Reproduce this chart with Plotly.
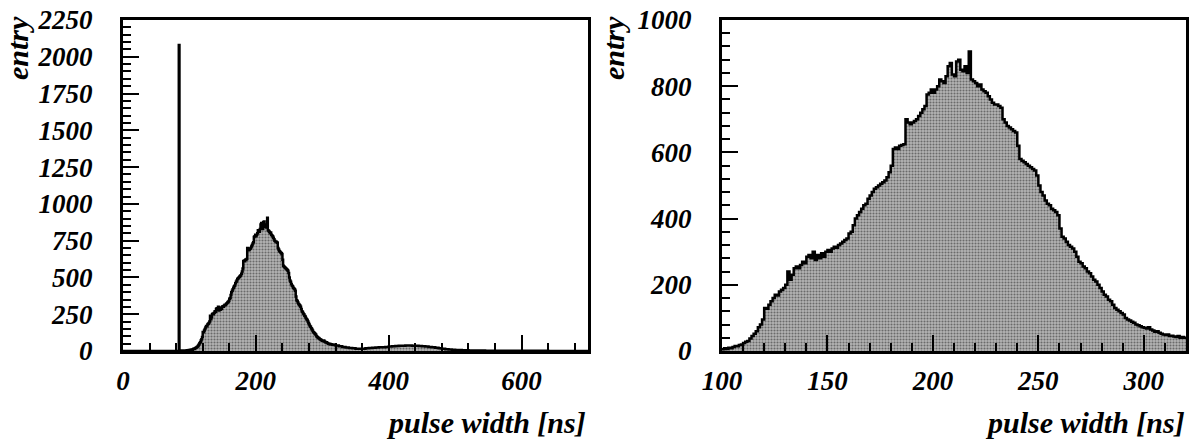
import plotly.graph_objects as go

# ---------------- data (counts per 1 ns bin) ----------------
SPIKE_START = 84          # ns, narrow spike bin
SPIKE_COUNT = 2080

LOW_START = 85            # 85..99 ns, 1 ns bins
LOW_COUNTS = [3, 2, 4, 3, 2, 3, 4, 3, 2, 3, 4, 5, 4, 5, 6]

CORE_START = 100          # 100..319 ns, 1 ns bins
CORE_COUNTS = [
    5, 8, 6, 10, 8, 12, 15, 14, 18, 20,
    24, 28, 30, 38, 45, 52, 60, 72, 80, 95,
    130, 128, 140, 150, 160, 170, 168, 180, 185, 190,
    200, 240, 215, 230, 250, 255, 250, 260, 270, 265,
    285, 290, 280, 300, 275, 290, 280, 295, 285, 300,
    305, 300, 310, 315, 312, 320, 325, 330, 335, 340,
    355, 360, 380, 400, 410, 420, 430, 440, 445, 460,
    470, 480, 490, 495, 500, 505, 510, 515, 525, 540,
    560, 610, 615, 610, 620, 622, 625, 700, 690, 685,
    690, 695, 700, 710, 720, 730, 740, 775, 780, 790,
    780, 790, 800, 820, 815, 810, 830, 860, 870, 835,
    830, 875, 880, 850, 845, 860, 840, 905, 820, 815,
    810, 800, 805, 790, 785, 780, 770, 760, 750, 745,
    745, 740, 735, 700, 690, 680, 675, 670, 665, 660,
    620, 580, 575, 570, 565, 560, 555, 550, 545, 530,
    500, 480, 470, 455, 445, 440, 430, 425, 420, 410,
    370, 345, 340, 330, 320, 315, 310, 300, 285, 270,
    265, 255, 250, 240, 235, 225, 215, 210, 200, 190,
    180, 170, 165, 155, 150, 140, 130, 125, 120, 115,
    110, 100, 95, 92, 88, 85, 80, 78, 75, 72,
    70, 68, 72, 65, 62, 58, 60, 55, 52, 50,
    48, 50, 45, 46, 44, 42, 45, 40, 42, 40,
]

TAIL_START = 320          # 320..699 ns, 5 ns bins (count per ns)
TAIL_WIDTH = 5
TAIL_COUNTS = [
    38, 32, 28, 24, 20, 18,
    16, 15, 16, 18, 20, 22, 24, 25, 26, 28,
    30, 32, 34, 35, 36, 38, 38, 36, 35, 34,
    32, 30, 28, 26, 22, 18, 15, 12, 10, 8,
    7, 6, 5, 5, 4, 4, 3, 3, 3, 2,
    2, 2, 2, 2, 1, 1, 1, 1, 1, 1,
    1, 1, 1, 1, 1, 1, 1, 1, 0, 0,
    0, 0, 0, 0, 0, 0, 0, 0, 0, 0,
]

X_TITLE = "pulse width [ns]"
Y_TITLE = "entry"


def step_xy(blocks, x0=None):
    """blocks: list of (start, width, counts). returns hv-step x,y."""
    xs, ys = [], []
    if x0 is not None:
        xs.append(x0)
        ys.append(0)
    end = None
    for start, width, counts in blocks:
        for i, c in enumerate(counts):
            xs.append(start + i * width)
            ys.append(c)
        end = start + len(counts) * width
    xs.append(end)
    ys.append(0)
    return xs, ys


left_x, left_y = step_xy(
    [(SPIKE_START, 1, [SPIKE_COUNT]),
     (LOW_START, 1, LOW_COUNTS),
     (CORE_START, 1, CORE_COUNTS),
     (TAIL_START, TAIL_WIDTH, TAIL_COUNTS)],
    x0=0,
)
right_x, right_y = step_xy([(CORE_START, 1, CORE_COUNTS)])
right_y[-1] = CORE_COUNTS[-1]

FONT = "Liberation Serif"

fig = go.Figure()
for xs, ys, xa, ya in [(left_x, left_y, "x", "y"), (right_x, right_y, "x2", "y2")]:
    fig.add_trace(go.Scatter(
        x=xs, y=ys, mode="lines", line=dict(shape="hv", color="black", width=2.5),
        fill="tozeroy", fillcolor="#a0a0a0",
        fillpattern=dict(shape=".", size=3, solidity=0.4,
                         fgcolor="#202020", bgcolor="#b4b4b4"),
        xaxis=xa, yaxis=ya, hoverinfo="skip", showlegend=False,
    ))

tickfont = dict(family=FONT, size=27, color="black", style="italic", weight="bold")


def axis(domain, rng, dtick, mdtick, anchor, standoff):
    return dict(
        domain=domain, range=rng, dtick=dtick, tick0=0,
        ticks="inside", ticklen=16, tickwidth=2, tickcolor="black",
        minor=dict(dtick=mdtick, ticks="inside", ticklen=8, tickwidth=1.5, tickcolor="black"),
        showline=True, linecolor="black", linewidth=3, mirror=True,
        showgrid=False, zeroline=False, tickfont=tickfont, anchor=anchor,
        ticklabelstandoff=standoff, automargin=False,
    )


W, H = 1190, 444
xd1 = [123 / W, 588 / W]
xd2 = [722 / W, 1186 / W]
yd = [1 - 351 / H, 1 - 20 / H]

fig.update_layout(
    width=W, height=H,
    margin=dict(l=0, r=0, t=0, b=0),
    paper_bgcolor="white", plot_bgcolor="white",
    xaxis=axis(xd1, [0, 700], 200, 40, "y", 4),
    yaxis=axis(yd, [0, 2250], 250, 50, "x", 22),
    xaxis2=axis(xd2, [100, 320], 50, 10, "y2", 4),
    yaxis2=axis(yd, [0, 1000], 200, 40, "x2", 22),
)

titlefont = dict(family=FONT, size=30, color="black", style="italic", weight="bold")
for xr in [588, 1187]:
    fig.add_annotation(text=X_TITLE, xref="paper", yref="paper",
                       x=xr / W, y=1 - 422 / H, xanchor="right", yanchor="middle",
                       showarrow=False, font=titlefont)
for xc in [17, 613]:
    fig.add_annotation(text=Y_TITLE, xref="paper", yref="paper",
                       x=xc / W, y=1 - 48 / H, xanchor="center", yanchor="middle",
                       textangle=-90, showarrow=False, font=titlefont)

fig.write_html("out.html", config={"displayModeBar": False},
               post_script="document.body.style.margin='0';document.body.style.overflow='hidden';")
